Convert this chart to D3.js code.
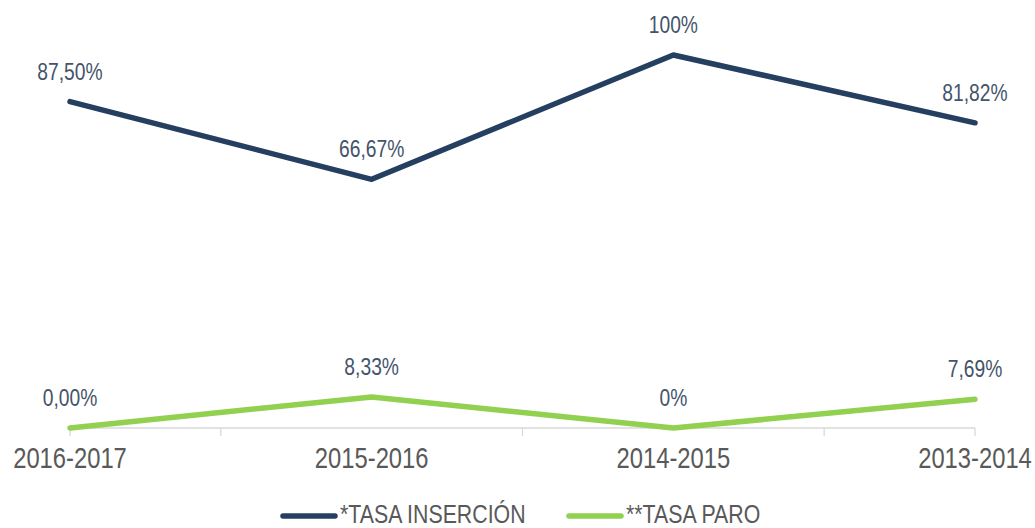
<!DOCTYPE html>
<html lang="es">
<head>
<meta charset="UTF-8">
<title>Tasa inserción / paro</title>
<script src="https://d3js.org/d3.v7.min.js"></script>
<style>
  body { margin: 0; background: #fff; }
  svg text { font-family: "Liberation Sans", Arial, sans-serif; }
</style>
</head>
<body>
<svg id="chart" width="1035" height="528"></svg>
<script>
// data
var cursos = ["2016-2017", "2015-2016", "2014-2015", "2013-2014"];
var insercion = [87.50, 66.67, 100, 81.82];
var insercionLabels = ["87,50%", "66,67%", "100%", "81,82%"];
var paro = [0.00, 8.33, 0, 7.69];
var paroLabels = ["0,00%", "8,33%", "0%", "7,69%"];
var series = [
    { name: "*TASA INSERCIÓN", values: insercion, labels: insercionLabels, color: "#243F60" },
    { name: "**TASA PARO", values: paro, labels: paroLabels, color: "#92D050" }
];

var narrow = 0.82; // squeeze Liberation Sans to look like a narrow face

var svg = d3.select("#chart");

// scales
var x = d3.scalePoint().domain(cursos).range([70, 975]);
var y = d3.scaleLinear().domain([0, 100]).range([428, 55]);

function place(px, py) {
    return "translate(" + px + "," + py + ") scale(" + narrow + ",1)";
}

// axis line + tick marks between categories
var step = x.step();
var tickPos = [x(cursos[0])];
for (var i = 1; i < cursos.length; i++) tickPos.push(x(cursos[i]) - step / 2);
tickPos.push(x(cursos[cursos.length - 1]));

svg.append("line")
    .attr("x1", x(cursos[0])).attr("x2", x(cursos[cursos.length - 1]))
    .attr("y1", y(0)).attr("y2", y(0))
    .attr("stroke", "#D9D9D9").attr("stroke-width", 1.3);

svg.selectAll(".tick").data(tickPos).enter().append("line")
    .attr("x1", function(d) { return d; }).attr("x2", function(d) { return d; })
    .attr("y1", y(0)).attr("y2", y(0) + 8)
    .attr("stroke", "#D9D9D9").attr("stroke-width", 1.3);

svg.selectAll(".xlabel").data(cursos).enter().append("text")
    .attr("transform", function(d) { return place(x(d), 468); })
    .attr("text-anchor", "middle")
    .attr("font-size", 29)
    .attr("fill", "#595959")
    .text(function(d) { return d; });

// lines
var line = d3.line()
    .x(function(d, i) { return x(cursos[i]); })
    .y(function(d) { return y(d); });

series.forEach(function(s) {
    svg.append("path")
        .datum(s.values)
        .attr("d", line)
        .attr("fill", "none")
        .attr("stroke", s.color)
        .attr("stroke-width", 5.5)
        .attr("stroke-linejoin", "round")
        .attr("stroke-linecap", "round");

    svg.selectAll(null).data(s.values).enter().append("text")
        .attr("transform", function(d, i) { return place(x(cursos[i]), y(d) - 22); })
        .attr("text-anchor", "middle")
        .attr("font-size", 23.5)
        .attr("fill", "#44546A")
        .text(function(d, i) { return s.labels[i]; });
});

// legend
var legendX = [283, 569];
series.forEach(function(s, i) {
    var g = svg.append("g").attr("transform", "translate(" + legendX[i] + ",516)");
    g.append("line")
        .attr("x1", 0).attr("x2", 52)
        .attr("y1", 0).attr("y2", 0)
        .attr("stroke", s.color).attr("stroke-width", 5.5)
        .attr("stroke-linecap", "round");
    g.append("text")
        .attr("transform", place(57, 7))
        .attr("font-size", 26)
        .attr("fill", "#595959")
        .text(s.name);
});
</script>
</body>
</html>
